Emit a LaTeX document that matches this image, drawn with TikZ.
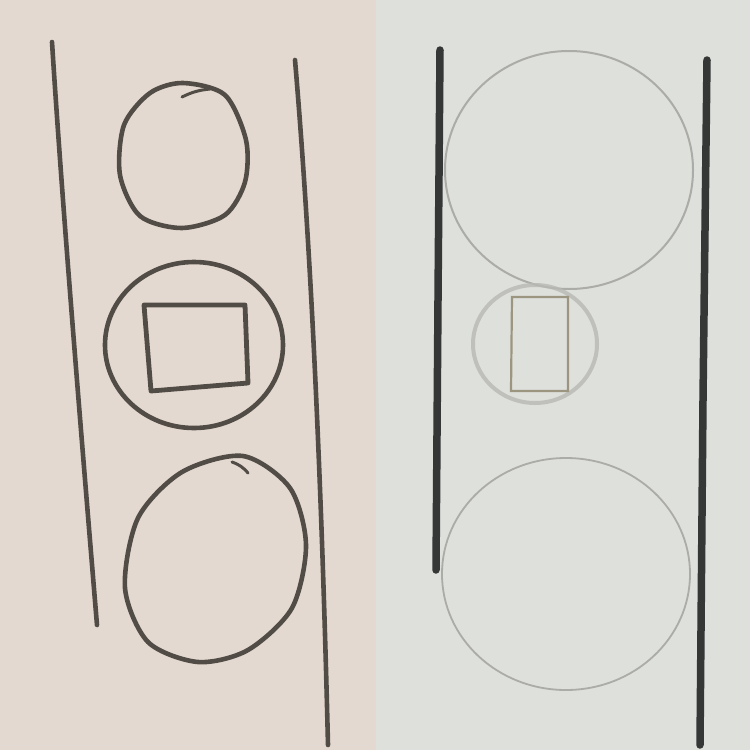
\documentclass[tikz,border=0pt]{standalone}
\begin{document}
\begin{tikzpicture}[x=1pt,y=-1pt,
  pencil/.style={draw=pencilgrey,line width=4.6pt,line cap=round,line join=round},
  marker/.style={draw=markergrey,line width=7.5pt,line cap=round},
  thinring/.style={draw=ringgrey,line width=2pt},
  ]
\definecolor{paper}{HTML}{E4D9D1}
\definecolor{wall}{HTML}{DEE0DB}
\definecolor{pencilgrey}{HTML}{524C46}
\definecolor{markergrey}{HTML}{353737}
\definecolor{ringgrey}{HTML}{ABABA8}
\definecolor{goldgrey}{HTML}{9C9580}
\useasboundingbox (0,0) rectangle (750,750);
% backgrounds
\fill[paper] (0,0) rectangle (376,750);
\fill[wall] (376,0) rectangle (750,750);
% ---------- left panel (pencil sketch) ----------
\draw[pencil] (52,42) .. controls (62,200) and (80,420) .. (97,625);
\draw[pencil] (295,60) .. controls (312,260) and (322,500) .. (328,745);
% top circle
\draw[pencil] plot[smooth cycle] coordinates {(183,83) (225,95) (246,140) (245,182) (225,215) (182,228) (140,216) (120,175) (124,125) (150,93)};
\draw[pencil,line width=3pt] (182,97) to[bend left=10] (210,89);
% middle circle with square
\draw[pencil] (194,345) ellipse [x radius=89, y radius=83];
\draw[pencil,line width=4.8pt] (144,305) -- (245,305) -- (248,383) -- (151,391) -- cycle;
% bottom egg
\draw[pencil] plot[smooth cycle] coordinates {(243,456) (290,488) (306,545) (292,608) (248,650) (198,662) (148,642) (125,588) (138,518) (182,472)};
\draw[pencil,line width=3pt] (232,462) to[bend left=15] (248,473);
% ---------- right panel (marker) ----------
\draw[marker] (440,50) -- (438,300) -- (436,570);
\draw[marker] (707,60) -- (703,400) -- (700,745);
\draw[thinring] (569,170) ellipse [x radius=124, y radius=119];
\draw[draw=ringgrey!85,line width=4pt,opacity=0.8] (535,344) ellipse [x radius=62, y radius=59];
\draw[draw=goldgrey,line width=2.2pt] (512,297) -- (568,297) -- (568,391) -- (511,391) -- cycle;
\draw[thinring,line width=1.8pt] (566,574) ellipse [x radius=124, y radius=116];
\end{tikzpicture}
\end{document}
